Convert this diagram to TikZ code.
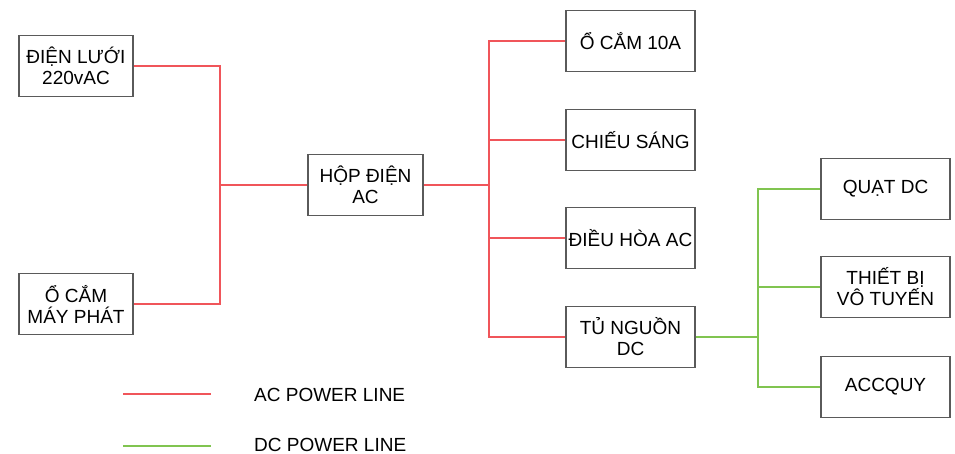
\documentclass[tikz,border=0pt]{standalone}
\usepackage{fontspec}
\setmainfont{Liberation Sans}
\usetikzlibrary{positioning}
\definecolor{acred}{RGB}{240,85,90}
\definecolor{dcgreen}{RGB}{128,196,80}
\definecolor{boxgray}{RGB}{90,90,90}

\begin{document}
\begin{tikzpicture}[x=1pt,y=-1pt,inner sep=0pt,font=\fontsize{19}{21}\selectfont,
    box/.style={draw=boxgray,line width=1.6pt,rectangle,minimum width=114pt,minimum height=61pt,align=center},
    wbox/.style={box,minimum width=129pt},
    acline/.style={draw=acred,line width=1.6pt},
    dcline/.style={draw=dcgreen,line width=1.6pt}]
\useasboundingbox (0,0) rectangle (955,454);
\node[box] at (76, 66) (b_1) {ĐIỆN LƯỚI\\220vAC};
        \node[box] at (76, 304) (b_2) {Ổ CẮM\\MÁY PHÁT};
        \node[box,minimum width=115pt] at (365.5, 185) (hop) {HỘP ĐIỆN\\AC};
        \node[wbox] at (630.5, 41) (o_1) {Ổ CẮM 10A};
        \node[wbox] at (630.5, 140) (o_2) {CHIẾU SÁNG};
        \node[wbox] at (630.5, 238) (o_3) {ĐIỀU HÒA AC};
        \node[wbox] at (630.5, 337) (o_4) {TỦ NGUỒN\\DC};
        \node[wbox] at (885.5, 189) (d_1) {QUẠT DC};
        \node[wbox] at (885.5, 287) (d_2) {THIẾT BỊ\\VÔ TUYẾN};
        \node[wbox] at (885.5, 387) (d_3) {ACCQUY};
        \coordinate (j_1) at (220, 185);
        \coordinate (j_2) at (489, 185);
        \coordinate (j_3) at (758, 337);
        % legend
        \coordinate (l_1) at (123, 394);
        \coordinate (l_2) at (211, 394);
        \coordinate (l_3) at (123, 446);
        \coordinate (l_4) at (211, 446);
        \node[anchor=base west] at (254, 401) (t_ac) {AC POWER LINE};
        \node[anchor=base west] at (254, 451) (t_dc) {DC POWER LINE};
        \path[acline]
            (b_1.east) -| (j_1)
            (b_2.east) -| (j_1)
            (j_1) -- (hop.west)
            (hop.east) -- (j_2)
            (j_2) |- (o_1.west)
            (j_2) |- (o_2.west)
            (j_2) |- (o_3.west)
            (j_2) |- (o_4.west)
            (l_1) -- (l_2);
        \path[dcline]
            (o_4.east) -- (j_3)
            (j_3) |- (d_1.west)
            (j_3) |- (d_2.west)
            (j_3) |- (d_3.west)
            (l_3) -- (l_4);
\end{tikzpicture}
\end{document}
